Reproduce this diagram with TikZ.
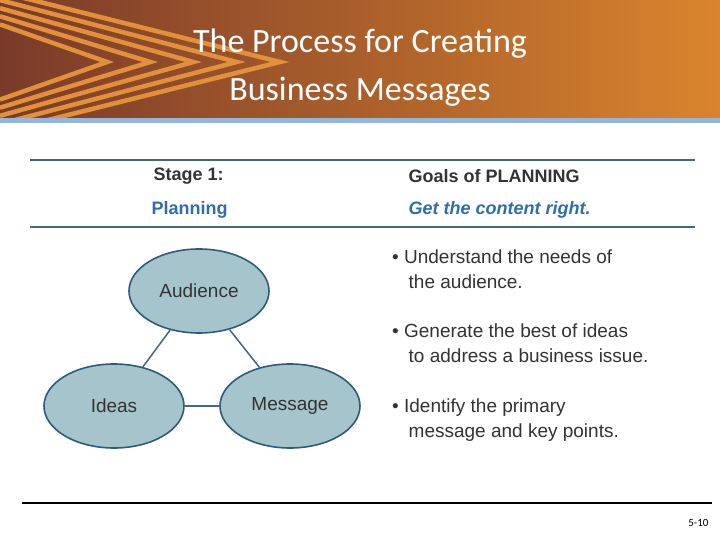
\documentclass[tikz,border=0pt]{standalone}
\usepackage{fontspec}
\setmainfont{Liberation Sans}
\newfontfamily\titlefont{Carlito}
\usetikzlibrary{shapes.geometric}
\definecolor{hdark}{HTML}{7A3A2A}
\definecolor{horange}{HTML}{DA842C}
\definecolor{stripe}{HTML}{E0913A}
\definecolor{bluebar}{HTML}{93B6DA}
\definecolor{rule}{HTML}{3F6A82}
\definecolor{ellfill}{HTML}{A6C4CB}
\definecolor{elldraw}{HTML}{2C5C78}
\definecolor{txt}{HTML}{333333}
\definecolor{plan}{HTML}{2F6DAE}
\tikzset{
 oval/.style={ellipse, draw=elldraw, line width=1.6pt, fill=ellfill, minimum width=140pt, minimum height=84pt, font=\fontsize{19}{22}\selectfont, text=txt},
 link/.style={draw=rule, line width=1.5pt},
 hrule/.style={draw=rule, line width=2pt},
 body/.style={font=\fontsize{19}{25}\selectfont, text=txt, anchor=north west, align=left, inner sep=0pt},
 head/.style={font=\bfseries\fontsize{18}{20}\selectfont, anchor=west},
}
\begin{document}
\begin{tikzpicture}[x=1pt,y=-1pt]
\useasboundingbox (0,0) rectangle (720,540);
\fill[white] (0,0) rectangle (720,540);
\shade[left color=hdark, right color=horange] (0,0) rectangle (720,118);
\begin{scope}
\clip (0,0) rectangle (720,118);
\foreach \d in {0,18,36,54,72}{
  \draw[stripe, line width=4.5pt] (0,{-8+\d*0.45}) -- ({280-\d*2.4},62) -- (0,{132-\d*0.45});
}
\end{scope}
\fill[bluebar] (0,118) rectangle (720,123);
\node[font=\titlefont\fontsize{34}{48}\selectfont, text=white, align=center] (title) at (360,68) {The Process for Creating\\Business Messages};
\draw[hrule] (30,160) -- (695,160);
\draw[hrule] (30,227) -- (695,227);
\node[head, text=txt] (s1) at (150,176) {Stage 1:};
\node[head, text=plan] (pl) at (148,210) {Planning};
\node[head, text=txt] (g) at (405,176) {Goals of PLANNING};
\node[head, font=\bfseries\itshape\fontsize{18}{20}\selectfont, text=plan] (gc) at (405,210) {Get the content right.};
\node[oval] (aud) at (199,291) {Audience};
\node[oval] (ide) at (114,406) {Ideas};
\node[oval] (msg) at (290,406) {Message};
\draw[link] (aud) -- (ide);
\draw[link] (aud) -- (msg);
\draw[link] (ide) -- (msg);
\node[body] (b1) at (392,250) {\textbullet\ Understand the needs of\\\hspace{16.5pt}the audience.};
\node[body] (b2) at (392,324) {\textbullet\ Generate the best of ideas\\\hspace{16.5pt}to address a business issue.};
\node[body] (b3) at (392,399) {\textbullet\ Identify the primary\\\hspace{16.5pt}message and key points.};
\draw[black, line width=1.2pt] (22,503) -- (712,503);
\node[font=\titlefont\fontsize{11}{12}\selectfont, anchor=east] (pg) at (712,523) {5-10};
\end{tikzpicture}
\end{document}
